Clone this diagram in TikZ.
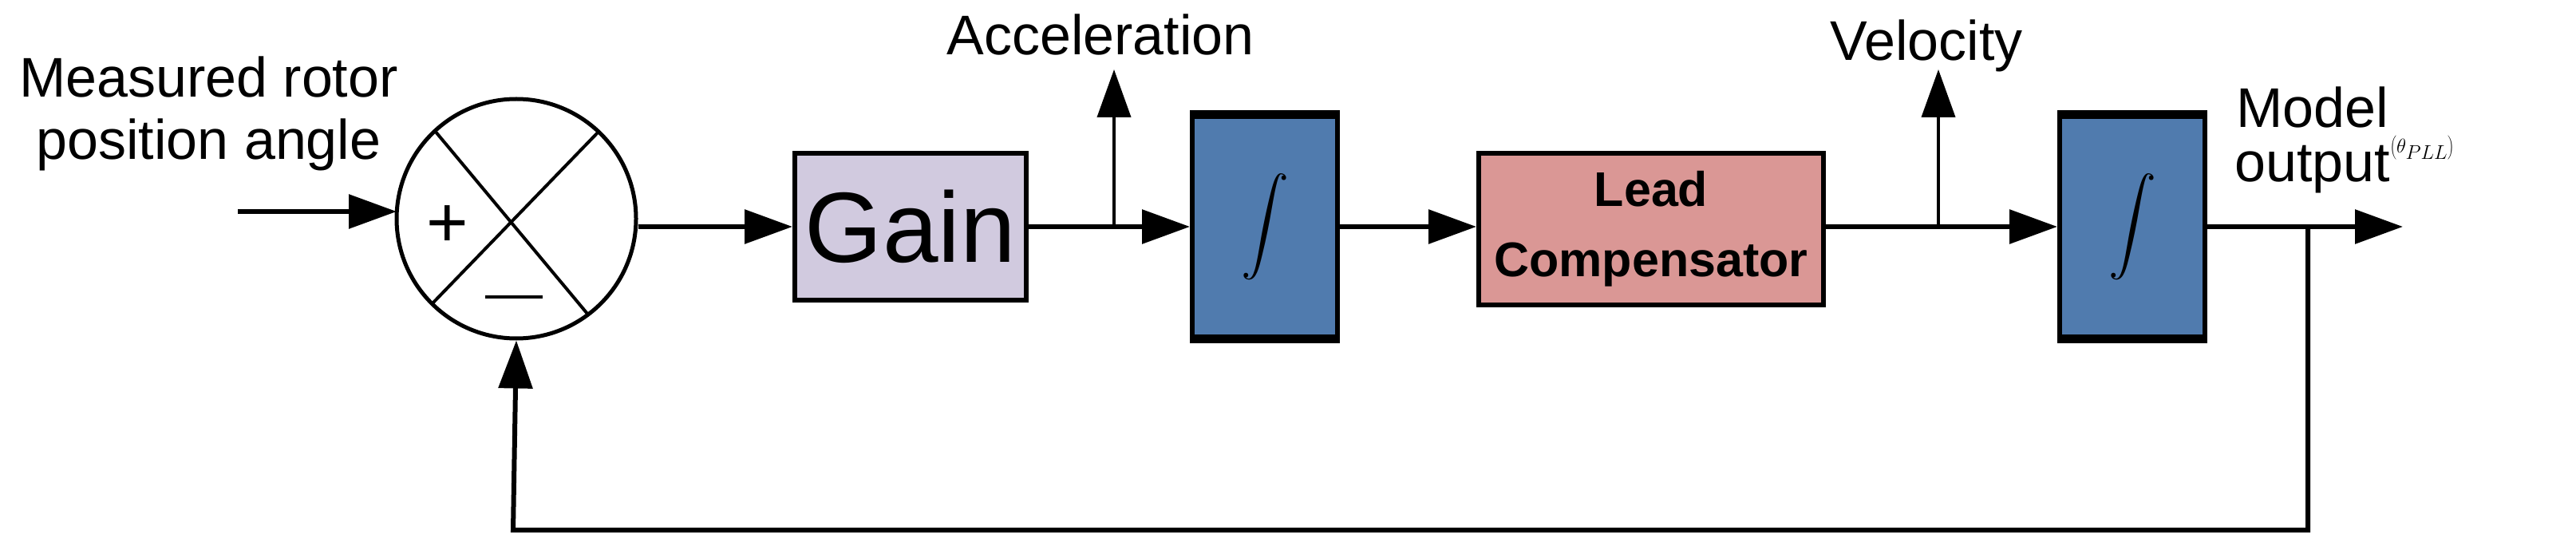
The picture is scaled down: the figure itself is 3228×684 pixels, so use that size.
\documentclass[tikz,border=0pt]{standalone}
\usepackage{fontspec}
\setmainfont{Liberation Sans}
\usetikzlibrary{arrows.meta}
\begin{document}
\begin{tikzpicture}[x=1pt,y=-1pt,
  arr/.style={line width=6pt,-{Triangle[length=60pt,width=42pt]}},
  varr/.style={line width=4pt,-{Triangle[length=60pt,width=42pt]}},
  integ/.style={draw,line width=6pt,fill=intblue,minimum width=182pt,minimum height=275pt,inner sep=0pt},
  txt/.style={font=\fontsize{70}{78}\selectfont,inner sep=0pt,align=center}]
\definecolor{intblue}{HTML}{507BAE}
\definecolor{gainc}{HTML}{D1CADF}
\definecolor{leadc}{HTML}{DA9795}
\useasboundingbox (0,0) rectangle (3228,684);
% summing junction
\node (sum) [draw,circle,line width=5pt,minimum size=300pt,inner sep=0pt] at (647,274) {};
\draw[line width=4pt] (545,164) -- (736,393);
\draw[line width=4pt] (751,164) -- (542,380);
\node[txt,font=\fontsize{90}{90}\selectfont] at (561,284) {+};
\draw[line width=4pt] (608,372) -- (680,372);
% input
\coordinate (in) at (298,265);
\node[txt,anchor=east] at (499,142) {Measured rotor\\position angle};
\draw[arr] (in) -- (497,265);
% gain
\node (gain) [draw,line width=6pt,fill=gainc,minimum width=290pt,minimum height=184pt,inner sep=0pt,font=\fontsize{125}{125}\selectfont] at (1141,284) {Gain};
\draw[arr] (sum.east |- 0,284) -- (gain.west);
% integrator 1
\node (i1) [integ,minimum width=182pt] at (1585,284) {};
\node[inner sep=0pt,scale=6] at (i1) {$\displaystyle\int$};
\draw[line width=10pt] (i1.north west) -- (i1.north east) (i1.south west) -- (i1.south east);
\draw[arr] (gain.east) -- (i1.west);
\coordinate (acc) at (1396,284);
\coordinate (acctip) at (1396,87);
\draw[varr] (acc) -- (acctip);
\node[txt] at (1379,43) {Acceleration};
% lead
\node (lead) [draw,line width=6pt,fill=leadc,minimum width=432pt,minimum height=190pt,inner sep=0pt,align=center,font=\bfseries\fontsize{61}{88}\selectfont] at (2069,287) {Lead\\Compensator};
\draw[arr] (i1.east) -- (lead.west |- 0,284);
% integrator 2
\node (i2) [integ] at (2672,284) {};
\node[inner sep=0pt,scale=6] at (i2) {$\displaystyle\int$};
\draw[line width=10pt] (i2.north west) -- (i2.north east) (i2.south west) -- (i2.south east);
\draw[arr] (lead.east |- 0,284) -- (i2.west);
\coordinate (vel) at (2429,284);
\coordinate (veltip) at (2429,87);
\draw[varr] (vel) -- (veltip);
\node[txt] at (2414,57) {Velocity};
% output
\coordinate (out) at (3011,284);
\draw[arr] (i2.east) -- (out);
\node[txt,anchor=east] at (2993,134) {Model};
\node[txt,anchor=east] at (2995,212) {output};
\node[inner sep=0pt,anchor=west,font=\fontsize{72}{80}\selectfont] at (2995,185) {$\left(\theta_{\scriptscriptstyle PLL}\right)$};
% feedback
\coordinate (br) at (2892,284);
\coordinate (c1) at (2892,664);
\coordinate (c2) at (643,664);
\draw[line width=6pt,-{Triangle[length=60pt,width=42pt]}] (br) -- (c1) -- (c2) -- (sum.south);
\end{tikzpicture}
\end{document}
